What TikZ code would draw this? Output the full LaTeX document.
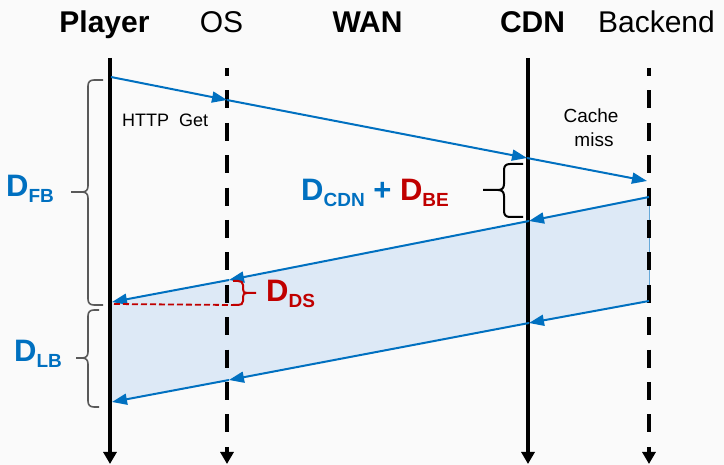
\documentclass[tikz,border=0pt]{standalone}
\usepackage{fontspec}
\setmainfont{Liberation Sans}
\usetikzlibrary{arrows.meta}
\definecolor{ablue}{RGB}{0,112,192}
\definecolor{ared}{RGB}{192,0,0}
\definecolor{shadeblue}{RGB}{221,233,246}
\definecolor{bggray}{RGB}{250,250,250}
\definecolor{bracegray}{RGB}{89,89,89}
\newcommand\subtxt[1]{\raisebox{-6pt}{\fontsize{19}{19}\selectfont #1}}
\begin{document}
\begin{tikzpicture}[x=1pt,y=-1pt,
  life/.style={line width=4pt, -{Triangle[length=12pt,width=13pt]}},
  lifedash/.style={life, dash pattern=on 18pt off 14.4pt, dash phase=10pt},
  msg/.style={draw=ablue, line width=2pt, -{Triangle[length=15pt,width=11pt]}},
  title/.style={anchor=base, inner sep=0pt, font=\fontsize{30}{30}\selectfont},
  small/.style={anchor=base, inner sep=0pt},
  lbl/.style={anchor=base west, inner sep=0pt, font=\fontsize{31}{31}\selectfont\bfseries},
  bracebox/.style={line width=1.6pt, line join=round},
]
\useasboundingbox (0,0) rectangle (724,465);
\fill[bggray] (0,0) rectangle (724,465);

% message points
\coordinate (p1) at (111,77);
\coordinate (o1) at (227,100);
\coordinate (c1) at (527,158);
\coordinate (b1) at (647,181);
\coordinate (b2) at (649,197);
\coordinate (c2) at (529,221);
\coordinate (o2) at (229,280);
\coordinate (p2) at (112,302);
\coordinate (b3) at (649,301);
\coordinate (c3) at (529,323);
\coordinate (o3) at (229,380);
\coordinate (p3) at (112,402);
\coordinate (pd) at (114,304);
\coordinate (ds) at (233,305);

% shaded region
\fill[shadeblue] (p2) -- (b2) -- (b3) -- (p3) -- cycle;
\draw[ablue!60, line width=1pt] (b2) -- (b3);

% lifelines
\coordinate (pt) at (110,58);  \coordinate (pb) at (110,464);
\coordinate (ot) at (227,68);  \coordinate (ob) at (227,464);
\coordinate (ct) at (528,58);  \coordinate (cb) at (528,464);
\coordinate (bt) at (649,68);  \coordinate (bb) at (649,464);
\draw[life] (pt) -- (pb);
\draw[lifedash] (ot) -- (ob);
\draw[life] (ct) -- (cb);
\draw[lifedash] (bt) -- (bb);

% messages
\draw[msg] (p1) -- (o1);
\draw[msg] (o1) -- (c1);
\draw[msg] (c1) -- (b1);
\draw[msg] (b2) -- (c2);
\draw[msg] (c2) -- (o2);
\draw[msg] (o2) -- (p2);
\draw[msg] (b3) -- (c3);
\draw[msg] (c3) -- (o3);
\draw[msg] (o3) -- (p3);

% red dashed
\draw[ared, line width=1.8pt, dash pattern=on 6pt off 3pt] (pd) -- (ds);

% braces
\draw[bracegray, bracebox]
  (103,80) -- (94,80) .. controls (90,80) and (88,82) .. (88,86) -- (88,186)
  .. controls (88,190) and (86,192) .. (82,192) -- (71,192);
\draw[bracegray, bracebox]
  (103,305) -- (94,305) .. controls (90,305) and (88,303) .. (88,299) -- (88,198)
  .. controls (88,194) and (86,192) .. (82,192);
\draw[bracegray, bracebox]
  (99,310) -- (94,310) .. controls (90,310) and (88,312) .. (88,316) -- (88,352)
  .. controls (88,356) and (86,358) .. (82,358) -- (76,358);
\draw[bracegray, bracebox]
  (99,407) -- (94,407) .. controls (90,407) and (88,405) .. (88,401) -- (88,364)
  .. controls (88,360) and (86,358) .. (82,358);
\draw[black, bracebox, line width=2pt]
  (523,164) -- (510,164) .. controls (506,164) and (504,166) .. (504,170) -- (504,184)
  .. controls (504,188) and (502,190) .. (498,190) -- (483,190);
\draw[black, bracebox, line width=2pt]
  (523,217) -- (510,217) .. controls (506,217) and (504,215) .. (504,211) -- (504,196)
  .. controls (504,192) and (502,190) .. (498,190);
\draw[ared, bracebox, line width=2pt]
  (233,281) -- (238,281) .. controls (241,281) and (243,282) .. (243,285) -- (243,289)
  .. controls (243,292) and (244,293) .. (247,293) -- (256,293);
\draw[ared, bracebox, line width=2pt]
  (ds) -- (238,305) .. controls (241,305) and (243,304) .. (243,301) -- (243,297)
  .. controls (243,294) and (244,293) .. (247,293);

% titles
\node[title, font=\fontsize{30}{30}\selectfont\bfseries] (tp) at (104.5,33) {Player};
\node[title] (to) at (221.5,33) {OS};
\node[title, font=\fontsize{30}{30}\selectfont\bfseries] (tw) at (367.5,33) {WAN};
\node[title, font=\fontsize{30}{30}\selectfont\bfseries] (tc) at (532.5,33) {CDN};
\node[title] (tb) at (656.5,33) {Backend};

% small texts
\node[small, anchor=base west, font=\fontsize{18}{18}\selectfont] (http) at (122,127) {HTTP\ \ Get};
\node[small, font=\fontsize{19}{19}\selectfont] (cache) at (591,123) {Cache};
\node[small, font=\fontsize{19}{19}\selectfont] (miss) at (594,147) {miss};

% delay labels
\node[lbl, text=ablue] (dfb) at (6,197) {D\subtxt{FB}};
\node[lbl, text=ablue] (dlb) at (14,362) {D\subtxt{LB}};
\node[lbl] (dcdn) at (301,201) {\color{ablue}D\subtxt{CDN} + \color{ared}D\subtxt{BE}};
\node[lbl, text=ared] (dds) at (266,302) {D\subtxt{DS}};
\end{tikzpicture}
\end{document}
